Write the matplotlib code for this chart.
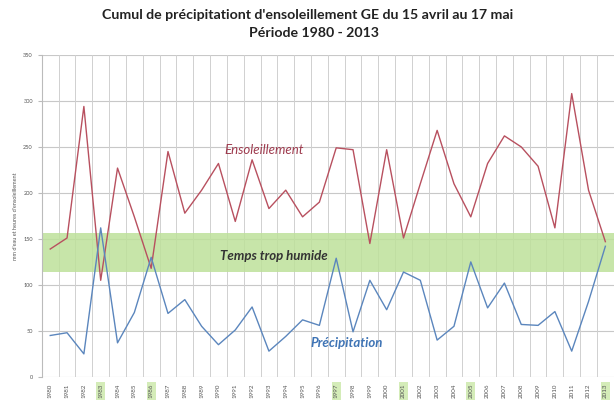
import matplotlib.pyplot as plt

years = list(range(1980, 2014))
ensoleillement = [139, 151, 294, 105, 227, 174, 118, 245, 178, 203, 232, 169, 236, 183, 203, 174, 190, 249,
                  247, 145, 247, 151, 210, 268, 210, 174, 232, 262, 250, 229, 162, 308, 203, 147]
precipitation = [45, 48, 25, 162, 37, 70, 130, 69, 84, 55, 35, 51, 76, 28, 44, 62, 56, 129,
                 49, 105, 73, 114, 105, 40, 55, 125, 75, 102, 57, 56, 71, 28, 82, 142]
humid_low, humid_high = 114, 156
highlight_years = [1983, 1986, 1997, 2001, 2005, 2013]

plt.rcParams['font.family'] = ['Lato', 'DejaVu Sans']

fig = plt.figure(figsize=(6.15, 4.07), dpi=100)
ax = fig.add_axes([0.068, 0.074, 0.93, 0.791])

x = list(range(len(years)))
ax.axhspan(humid_low, humid_high, color='#bde19a', alpha=0.85, lw=0, zorder=1)
ax.plot(x, ensoleillement, color='#b8505f', lw=1.0, zorder=3)
ax.plot(x, precipitation, color='#5b86bd', lw=1.0, zorder=3)

ax.set_xlim(-0.5, len(years) - 0.5)
ax.set_ylim(0, 350)
ax.set_yticks(range(0, 351, 50))
ax.set_xticks(x)
ax.set_xticklabels([str(y) for y in years], rotation=90, fontsize=4.5, color='#555555')
for lab, y in zip(ax.get_xticklabels(), years):
    if y in highlight_years:
        lab.set_bbox(dict(facecolor='#d4ecb8', edgecolor='none', pad=1.5))
ax.tick_params(axis='y', labelsize=4, colors='#555555', length=3, color='#bbbbbb')
ax.tick_params(axis='x', length=0, pad=5)

# grid: horizontal at ticks, vertical at category boundaries
for v in range(0, 351, 50):
    ax.axhline(v, color='#c8c8c8', lw=0.8, zorder=0)
for b in range(len(years) + 1):
    ax.axvline(b - 0.5, color='#d0d0d0', lw=0.7, zorder=0)
for s in ['top', 'right', 'bottom']:
    ax.spines[s].set_visible(False)
ax.spines['left'].set_color('#bbbbbb')

ax.set_ylabel("mm d'eau et heures d'ensoleillement", fontsize=4, color='#555555', labelpad=4)

ax.text(12.7, 247, 'Ensoleillement', color='#9e3b4e', fontsize=9.5, style='italic', ha='center', va='center')
ax.text(13.3, 131, 'Temps trop humide', color='#333333', fontsize=9.5, style='italic', weight='bold',
        ha='center', va='center')
ax.text(17.6, 37, 'Précipitation', color='#3f74b5', fontsize=9.5, style='italic', weight='bold',
        ha='center', va='center')

fig.text(0.5, 0.962, "Cumul de précipitationt d'ensoleillement GE du 15 avril au 17 mai",
         ha='center', va='center', fontsize=10.2, weight='bold', color='#222222')
fig.text(0.51, 0.92, 'Période 1980 - 2013', ha='center', va='center', fontsize=10.2,
         weight='bold', color='#222222')

fig.savefig('out.png', dpi=100)
